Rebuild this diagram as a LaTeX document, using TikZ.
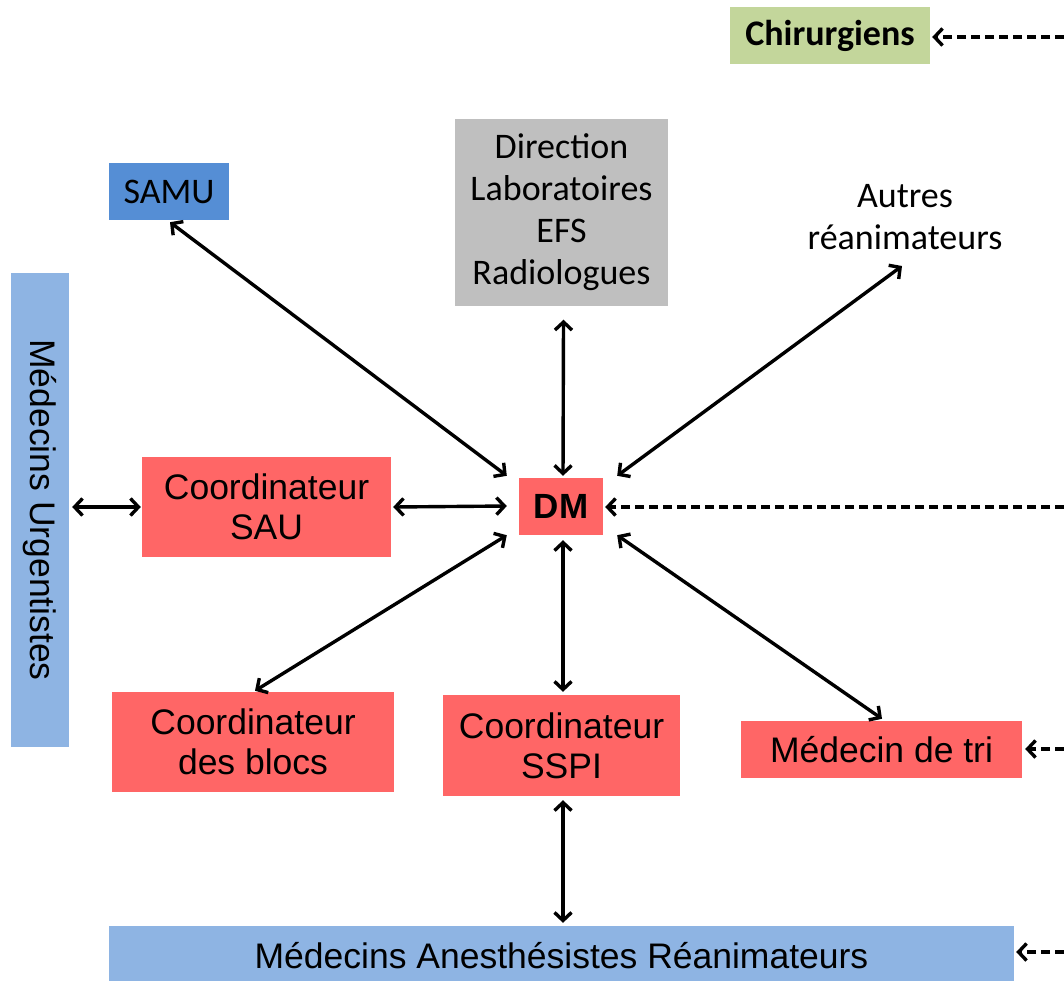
\documentclass[tikz,border=0pt]{standalone}
\usepackage{fontspec}
\setmainfont{Liberation Sans}
\newfontfamily\calfont{Carlito}
\usetikzlibrary{arrows.meta}
\definecolor{redbox}{RGB}{255,102,102}
\definecolor{lightblue}{RGB}{142,180,227}
\definecolor{samublue}{RGB}{85,142,213}
\definecolor{greybox}{RGB}{191,191,191}
\definecolor{greenbox}{RGB}{195,214,155}
\tikzset{
  box/.style={draw=none, inner sep=0pt, align=center, font=\fontsize{35.5}{40}\selectfont},
  calbox/.style={draw=none, inner sep=0pt, align=center, font=\calfont\fontsize{36}{42}\selectfont},
  conn/.style={line width=3.4pt, {Straight Barb[length=8pt,width=17pt]}-{Straight Barb[length=8pt,width=17pt]}},
  dconn/.style={line width=3.4pt, dash pattern=on 9pt off 5pt, -{Straight Barb[length=8pt,width=17pt]}}
}
\begin{document}
\begin{tikzpicture}[x=1pt,y=-1pt]
\useasboundingbox (0,0) rectangle (1064,980);
% nodes
\node[calbox, fill=greenbox, minimum width=200, minimum height=57, font=\calfont\bfseries\fontsize{36}{42}\selectfont] (chir) at (830,35.5) {Chirurgiens};
\node[calbox, fill=samublue, minimum width=120, minimum height=57] (samu) at (169,191.5) {SAMU};
\node[calbox, fill=greybox, minimum width=213, minimum height=187] (dir) at (561.5,212) {Direction\\Laboratoires\\EFS\\Radiologues};
\node[calbox] (autres) at (905,217) {Autres\\réanimateurs};
\node[box, fill=lightblue, minimum width=474, minimum height=58, rotate=-90] (urg) at (40,510) {Médecins Urgentistes};
\node[box, fill=redbox, minimum width=249, minimum height=100] (sau) at (266.5,507) {Coordinateur\\SAU};
\node[box, fill=redbox, minimum width=84, minimum height=57, font=\bfseries\fontsize{35}{40}\selectfont] (dm) at (561,506.5) {DM};
\node[box, fill=redbox, minimum width=282, minimum height=100] (blocs) at (253,742) {Coordinateur\\des blocs};
\node[box, fill=redbox, minimum width=237, minimum height=101] (sspi) at (561.5,745.5) {Coordinateur\\SSPI};
\node[box, fill=redbox, minimum width=281, minimum height=57] (tri) at (881.5,749.5) {Médecin de tri};
\node[box, fill=lightblue, minimum width=905, minimum height=60] (mar) at (561.5,956) {Médecins Anesthésistes Réanimateurs};
% free ends on the right edge
\coordinate (rchir) at (1064,37);
\coordinate (rdm) at (1064,507);
\coordinate (rtri) at (1064,749);
\coordinate (rmar) at (1064,952);
\coordinate (autresend) at (902,266);
% connectors
\draw[conn] ([shift={(1,2)}]samu.south) -- ([shift={(-12,-2)}]dm.north west);
\draw[conn] ([shift={(2,14)}]dir.south) -- ([shift={(2,-2)}]dm.north);
\draw[conn] (autresend) -- ([shift={(14,-2)}]dm.north east);
\draw[conn] ([xshift=3]urg.north |- sau.west) -- ([xshift=-1]sau.west);
\draw[conn] ([xshift=2]sau.east) -- ([xshift=-12,yshift=0.5]dm.west);
\draw[conn] ([shift={(-12,0)}]dm.south west) -- ([shift={(2,-1)}]blocs.north);
\draw[conn] ([shift={(2,5)}]dm.south) -- ([shift={(1.5,-3)}]sspi.north);
\draw[conn] ([shift={(14,0)}]dm.south east) -- ([shift={(0.5,-2)}]tri.north);
\draw[conn] ([shift={(1.5,4)}]sspi.south) -- ([shift={(1.5,-3)}]mar.north);
\draw[dconn] (rchir) -- ([xshift=2]chir.east |- rchir);
\draw[dconn] (rdm) -- ([xshift=2]dm.east |- rdm);
\draw[dconn] (rtri) -- ([xshift=3]tri.east |- rtri);
\draw[dconn] (rmar) -- ([xshift=2]mar.east |- rmar);
\end{tikzpicture}
\end{document}
